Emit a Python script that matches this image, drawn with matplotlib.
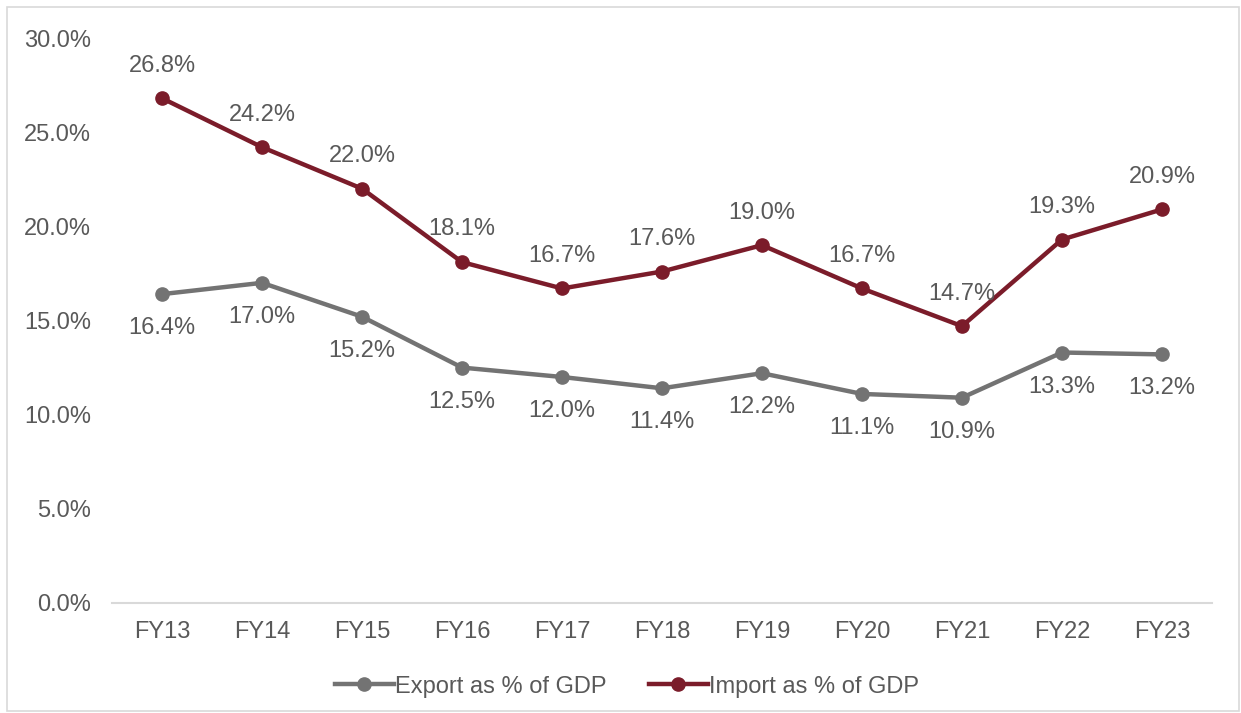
import matplotlib

matplotlib.use("Agg")
import matplotlib.pyplot as plt
from matplotlib.ticker import FuncFormatter

years = ["FY13", "FY14", "FY15", "FY16", "FY17", "FY18", "FY19", "FY20", "FY21", "FY22", "FY23"]
export_pct = [16.4, 17.0, 15.2, 12.5, 12.0, 11.4, 12.2, 11.1, 10.9, 13.3, 13.2]
import_pct = [26.8, 24.2, 22.0, 18.1, 16.7, 17.6, 19.0, 16.7, 14.7, 19.3, 20.9]

TEXT = "#595959"
GREY = "#737373"
MAROON = "#7B1C2A"
FS = 17

plt.rcParams.update({
    "font.family": ["Liberation Sans", "DejaVu Sans"],
    "font.size": FS,
})

fig = plt.figure(figsize=(12.41, 7.13), dpi=100)
ax = fig.add_axes([0.0903, 0.1543, 0.8863, 0.7924])

# light frame round the whole chart
fig.patches.append(plt.Rectangle((0.006, 0.003), 0.992, 0.987, transform=fig.transFigure,
                                 fill=False, edgecolor="#D9D9D9", lw=1.2))

x = list(range(len(years)))
ax.plot(x, export_pct, color=GREY, lw=3.2, marker="o", ms=9.5, label="Export as % of GDP")
ax.plot(x, import_pct, color=MAROON, lw=3.2, marker="o", ms=9.5, label="Import as % of GDP")

for i, v in enumerate(export_pct):
    ax.annotate(f"{v:.1f}%", (i, v), xytext=(0, -24.5), textcoords="offset points",
                ha="center", va="center", color=TEXT, fontsize=FS)
for i, v in enumerate(import_pct):
    ax.annotate(f"{v:.1f}%", (i, v), xytext=(0, 23.5), textcoords="offset points",
                ha="center", va="center", color=TEXT, fontsize=FS)

ax.set_xlim(-0.5, len(years) - 0.5)
ax.set_ylim(0, 30)
ax.set_yticks([0, 5, 10, 15, 20, 25, 30])
ax.yaxis.set_major_formatter(FuncFormatter(lambda v, _: f"{v:.1f}%"))
ax.set_xticks(x)
ax.set_xticklabels(years)
ax.tick_params(length=0, colors=TEXT, labelsize=FS)
ax.tick_params(axis="x", pad=13)
ax.tick_params(axis="y", pad=15)
for s in ("top", "right", "left"):
    ax.spines[s].set_visible(False)
ax.spines["bottom"].set_color("#D9D9D9")
ax.spines["bottom"].set_linewidth(1.5)

leg = ax.legend(loc="upper center", bbox_to_anchor=(0.468, -0.091), ncol=2, frameon=False,
                handlelength=2.5, handletextpad=0.05, columnspacing=1.8, fontsize=FS)
for t in leg.get_texts():
    t.set_color(TEXT)

fig.savefig("out.png", dpi=100)
